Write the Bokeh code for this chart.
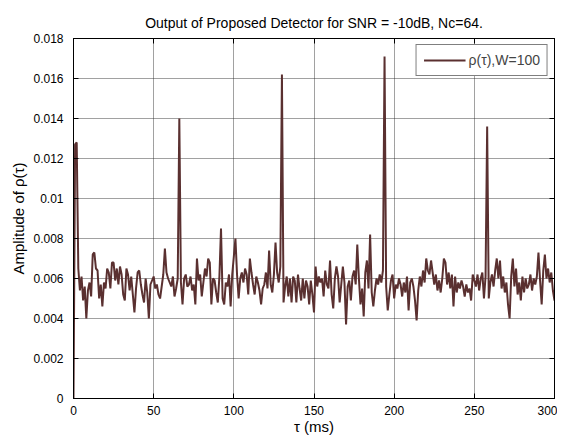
from bokeh.plotting import figure
from bokeh.models import Range1d, FixedTicker, LinearAxis, Legend, LegendItem
from bokeh.embed import file_html
from bokeh.resources import INLINE

title_text = "Output of Proposed Detector for SNR = -10dB, Nc=64."
x_label = "\u03c4 (ms)"
y_label = "Amplitude of \u03c1(\u03c4)"
legend_label = "\u03c1(\u03c4),W=100"

x_ticks = [0, 50, 100, 150, 200, 250, 300]
y_ticks = [0, 0.002, 0.004, 0.006, 0.008, 0.01, 0.012, 0.014, 0.016, 0.018]
y_tick_labels = ["0", "0.002", "0.004", "0.006", "0.008", "0.01", "0.012", "0.014", "0.016", "0.018"]

tau_ms = list(range(0, 301))
rho = [
    0.0, 0.0127, 0.0128, 0.0065, 0.0054, 0.0061, 0.0049, 0.0056, 0.0040, 0.0054,
    0.0058, 0.0051, 0.0072, 0.0073, 0.0065, 0.0064, 0.0050, 0.0057, 0.0046, 0.0058,
    0.0055, 0.0065, 0.0063, 0.0055, 0.0068, 0.0068, 0.0059, 0.0065, 0.0057, 0.0066,
    0.0062, 0.0052, 0.0049, 0.0065, 0.0062, 0.0054, 0.0061, 0.0052, 0.0043, 0.0055,
    0.0063, 0.0064, 0.0057, 0.0052, 0.0048, 0.0060, 0.0053, 0.0040, 0.0057, 0.0059,
    0.0061, 0.0055, 0.0057, 0.0052, 0.0050, 0.0056, 0.0062, 0.0075, 0.0063, 0.0060,
    0.0058, 0.0056, 0.0061, 0.0051, 0.0055, 0.0060, 0.0140, 0.0058, 0.0047, 0.0060,
    0.0062, 0.0056, 0.0057, 0.0061, 0.0054, 0.0057, 0.0047, 0.0070, 0.0059, 0.0062,
    0.0051, 0.0058, 0.0065, 0.0061, 0.0070, 0.0068, 0.0047, 0.0060, 0.0059, 0.0053,
    0.0048, 0.0061, 0.0085, 0.0050, 0.0047, 0.0058, 0.0056, 0.0062, 0.0046, 0.0062,
    0.0071, 0.0080, 0.0062, 0.0050, 0.0060, 0.0063, 0.0058, 0.0065, 0.0062, 0.0052,
    0.0070, 0.0063, 0.0057, 0.0052, 0.0061, 0.0058, 0.0054, 0.0047, 0.0055, 0.0057,
    0.0063, 0.0055, 0.0074, 0.0057, 0.0053, 0.0062, 0.0078, 0.0063, 0.0058, 0.0066,
    0.0162, 0.0048, 0.0056, 0.0061, 0.0051, 0.0060, 0.0048, 0.0061, 0.0059, 0.0048,
    0.0062, 0.0055, 0.0049, 0.0060, 0.0050, 0.0059, 0.0056, 0.0047, 0.0059, 0.0052,
    0.0043, 0.0066, 0.0056, 0.0061, 0.0058, 0.0060, 0.0051, 0.0064, 0.0057, 0.0055,
    0.0069, 0.0052, 0.0045, 0.0060, 0.0066, 0.0061, 0.0048, 0.0057, 0.0066, 0.0058,
    0.0037, 0.0056, 0.0059, 0.0049, 0.0061, 0.0064, 0.0057, 0.0077, 0.0060, 0.0047,
    0.0055, 0.0041, 0.0063, 0.0069, 0.0055, 0.0082, 0.0053, 0.0046, 0.0054, 0.0060,
    0.0057, 0.0062, 0.0058, 0.0064, 0.0171, 0.0056, 0.0044, 0.0052, 0.0059, 0.0062,
    0.0050, 0.0057, 0.0055, 0.0060, 0.0057, 0.0051, 0.0058, 0.0053, 0.0061, 0.0044,
    0.0058, 0.0060, 0.0056, 0.0049, 0.0039, 0.0054, 0.0061, 0.0056, 0.0064, 0.0058,
    0.0070, 0.0064, 0.0062, 0.0069, 0.0063, 0.0057, 0.0062, 0.0054, 0.0059, 0.0053,
    0.0060, 0.0070, 0.0068, 0.0057, 0.0063, 0.0055, 0.0062, 0.0046, 0.0061, 0.0053,
    0.0058, 0.0055, 0.0059, 0.0056, 0.0051, 0.0057, 0.0053, 0.0055, 0.0049, 0.0062,
    0.0059, 0.0056, 0.0062, 0.0054, 0.0060, 0.0063, 0.0050, 0.0061, 0.0136, 0.0050,
    0.0058, 0.0062, 0.0056, 0.0064, 0.0070, 0.0060, 0.0069, 0.0055, 0.0061, 0.0053,
    0.0058, 0.0047, 0.0040, 0.0061, 0.0070, 0.0056, 0.0065, 0.0052, 0.0058, 0.0049,
    0.0061, 0.0053, 0.0060, 0.0055, 0.0057, 0.0062, 0.0054, 0.0060, 0.0057, 0.0061,
    0.0073, 0.0059, 0.0047, 0.0064, 0.0072, 0.0060, 0.0065, 0.0058, 0.0063, 0.0054,
    0.0049,
]

FONT = "Liberation Sans"
LINE_COLOR = "#5a3030"

p = figure(width=557, height=437, output_backend="svg", toolbar_location=None,
           x_range=Range1d(0, 300), y_range=Range1d(0, 0.018),
           min_border_left=73, min_border_right=3, min_border_top=38, min_border_bottom=38)
p.background_fill_color = "white"
p.border_fill_color = "white"
p.outline_line_color = "black"
p.outline_line_width = 1

p.title.text = title_text
p.title.align = "center"
p.title.offset = -32
p.title.standoff = 15
p.title.text_font = FONT
p.title.text_font_size = "14px"
p.title.text_font_style = "normal"
p.title.text_color = "black"

r = p.line(tau_ms, rho, line_color=LINE_COLOR, line_width=2)

for ax in (p.xaxis[0], p.yaxis[0]):
    ax.major_label_text_font = FONT
    ax.major_label_text_font_size = "12px"
    ax.major_label_text_color = "black"
    ax.axis_label_text_font = FONT
    ax.axis_label_text_font_style = "normal"
    ax.axis_label_text_color = "black"
    ax.major_tick_in = 5
    ax.major_tick_out = 0
    ax.minor_tick_in = 0
    ax.minor_tick_out = 0
    ax.axis_line_color = "black"
    ax.major_tick_line_color = "black"

p.xaxis[0].axis_label_text_font_size = "15px"
p.yaxis[0].axis_label_text_font_size = "15px"
p.xaxis[0].ticker = FixedTicker(ticks=x_ticks)
p.yaxis[0].ticker = FixedTicker(ticks=y_ticks)
p.yaxis[0].major_label_overrides = {t: l for t, l in zip(y_ticks, y_tick_labels)}
p.xaxis[0].axis_label = x_label
p.yaxis[0].axis_label = y_label
p.xaxis[0].major_label_standoff = 7
p.yaxis[0].major_label_standoff = 10
p.xaxis[0].axis_label_standoff = 0
p.yaxis[0].axis_label_standoff = 3

for loc, tk in (("right", y_ticks), ("above", x_ticks)):
    ax = LinearAxis(ticker=FixedTicker(ticks=tk), major_label_text_font_size="0px",
                    major_tick_in=5, major_tick_out=0, minor_tick_in=0, minor_tick_out=0,
                    axis_line_color="black", major_tick_line_color="black",
                    major_label_standoff=0)
    ax.major_label_overrides = {t: "" for t in tk}
    p.add_layout(ax, loc)

p.xgrid.ticker = FixedTicker(ticks=x_ticks)
p.ygrid.ticker = FixedTicker(ticks=y_ticks)
for g in (p.xgrid[0], p.ygrid[0]):
    g.grid_line_color = "#222222"
    g.grid_line_alpha = 0.85
    g.grid_line_dash = "1 1"
    g.grid_line_width = 1

legend = Legend(items=[LegendItem(label=legend_label, renderers=[r])],
                location="top_right", margin=6, padding=7, glyph_width=42,
                glyph_height=16, label_height=16,
                label_standoff=3, border_line_color="black", border_line_width=1,
                label_text_font=FONT, label_text_font_size="14px",
                background_fill_color="white", background_fill_alpha=1)
p.add_layout(legend)

open("out.html", "w").write(file_html(p, INLINE))
